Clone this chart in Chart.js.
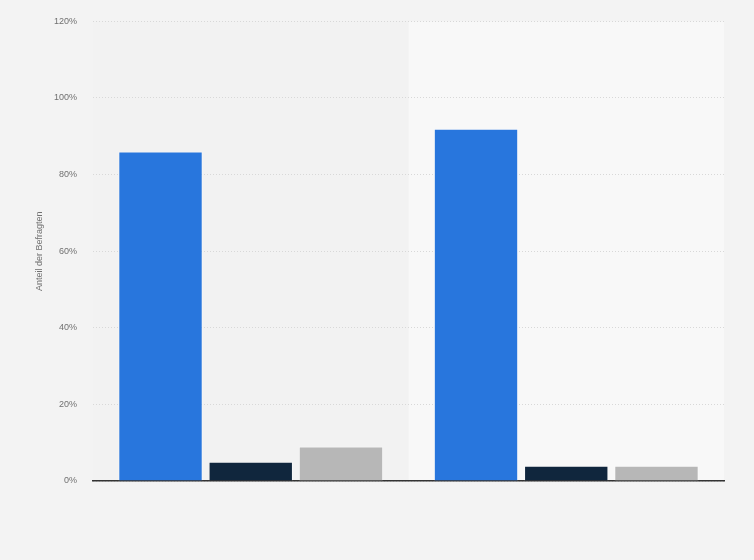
<!DOCTYPE html>
<html lang="de">
<head>
    <meta charset="UTF-8">
    <title>Anteil der Befragten</title>
    <script src="https://cdn.jsdelivr.net/npm/chart.js"></script>
    <style>
        body {
            margin: 0;
            background: #f3f3f3;
            font-family: "Liberation Sans", Arial, sans-serif;
        }
        .wrap {
            width: 754px;
            height: 560px;
        }
    </style>
</head>
<body>
    <div class="wrap">
        <canvas id="chart"></canvas>
    </div>

    <script>
        // two groups, three answers each (no labels shown in the source)
        const categories = ["", ""];
        const series1 = [86, 92];
        const series2 = [5, 4];
        const series3 = [9, 4];
        const yTicks = [0, 20, 40, 60, 80, 100, 120];

        const colors = ["#2876dd", "#10263d", "#b7b7b7"];
        const bandColors = ["#f2f2f2", "#f8f8f8"];

        // shaded column behind each category
        const bandPlugin = {
            id: "bands",
            beforeDraw(chart) {
                const ctx = chart.ctx;
                const area = chart.chartArea;
                const x = chart.scales.x;
                const step = (area.right - area.left) / categories.length;
                categories.forEach((c, i) => {
                    const mid = x.getPixelForValue(i);
                    ctx.save();
                    ctx.fillStyle = bandColors[i % bandColors.length];
                    ctx.fillRect(mid - step / 2, area.top, step, area.bottom - area.top);
                    ctx.restore();
                });
            }
        };

        const makeSet = (label, data, color) => ({
            label: label,
            data: data,
            backgroundColor: color,
            borderColor: "rgba(255,255,255,0.35)",
            borderWidth: 1,
            borderSkipped: "bottom",
            categoryPercentage: 0.858,
            barPercentage: 0.935
        });

        new Chart(document.getElementById("chart"), {
            type: "bar",
            data: {
                labels: categories,
                datasets: [
                    makeSet("Serie 1", series1, colors[0]),
                    makeSet("Serie 2", series2, colors[1]),
                    makeSet("Serie 3", series3, colors[2])
                ]
            },
            options: {
                responsive: true,
                maintainAspectRatio: false,
                animation: false,
                layout: { padding: { top: 20, right: 30, bottom: 0, left: 0 } },
                plugins: {
                    legend: { display: false },
                    tooltip: { enabled: false }
                },
                scales: {
                    x: {
                        grid: { display: false, drawTicks: false },
                        ticks: { display: false },
                        border: { display: true, color: "#333333", width: 1.5 },
                        afterFit: s => { s.height = 79; }
                    },
                    y: {
                        min: yTicks[0],
                        max: yTicks[yTicks.length - 1],
                        afterBuildTicks: s => { s.ticks = yTicks.map(v => ({ value: v })); },
                        grid: { color: "#d8d8d8", drawTicks: false, lineWidth: 1 },
                        border: { display: false, dash: [1, 2] },
                        ticks: {
                            padding: 16,
                            color: "#707070",
                            font: { family: "'Liberation Sans', Arial, sans-serif", size: 9 },
                            callback: v => v + "%"
                        },
                        title: {
                            display: true,
                            text: "Anteil der Befragten",
                            color: "#707070",
                            font: { family: "'Liberation Sans', Arial, sans-serif", size: 9 },
                            padding: { top: 34, bottom: 0 }
                        },
                        afterFit: s => { s.width = 93; }
                    }
                }
            },
            plugins: [bandPlugin]
        });
    </script>
</body>
</html>
